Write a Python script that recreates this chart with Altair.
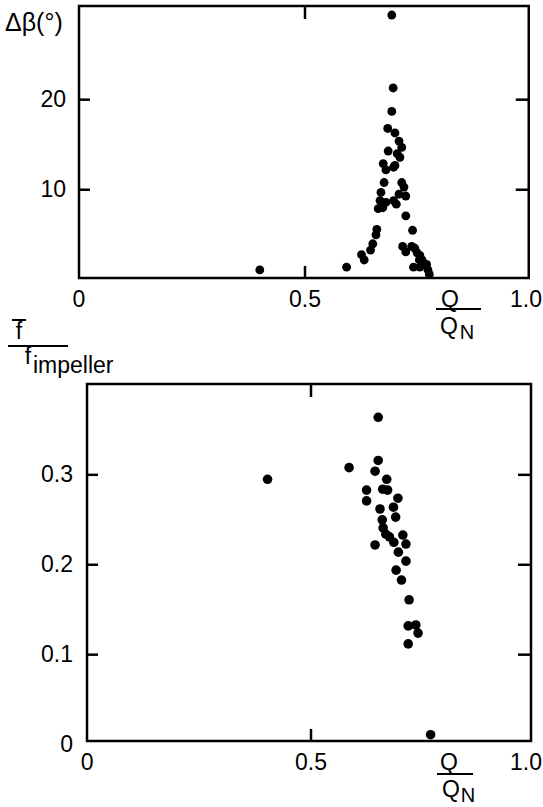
import altair as alt
import pandas as pd

# ---------------- data ----------------
# upper panel: flow ratio Q/QN vs. delta beta (degrees)
top_q = [0.400, 0.592, 0.625, 0.631, 0.645, 0.650, 0.657, 0.659, 0.662, 0.672,
         0.666, 0.679, 0.696, 0.702, 0.668, 0.708, 0.723, 0.675, 0.714, 0.719,
         0.673, 0.679, 0.696, 0.699, 0.684, 0.704, 0.710, 0.714, 0.683, 0.699,
         0.708, 0.692, 0.695, 0.692, 0.723, 0.738, 0.716, 0.723, 0.736, 0.743,
         0.748, 0.754, 0.753, 0.759, 0.740, 0.754, 0.769, 0.772, 0.775]
top_dbeta = [1.1, 1.4, 2.8, 2.2, 3.3, 4.0, 5.0, 5.6, 7.9, 8.0,
             8.8, 8.6, 8.8, 8.4, 9.7, 9.5, 9.3, 10.8, 10.8, 10.3,
             12.9, 12.2, 12.5, 12.7, 14.3, 14.0, 13.6, 14.7, 16.8, 16.3,
             15.4, 18.7, 21.3, 29.4, 7.1, 5.5, 3.7, 3.1, 3.7, 3.5,
             3.0, 2.7, 2.2, 2.2, 1.4, 1.4, 1.7, 1.1, 0.6]

# lower panel: flow ratio Q/QN vs. f / f_impeller
bot_q = [0.403, 0.585, 0.650, 0.650, 0.643, 0.669, 0.660, 0.671, 0.624, 0.624,
         0.694, 0.684, 0.654, 0.689, 0.659, 0.661, 0.667, 0.675, 0.685, 0.705,
         0.712, 0.643, 0.695, 0.712, 0.690, 0.702, 0.719, 0.717, 0.734, 0.739,
         0.717, 0.767]
bot_f = [0.295, 0.308, 0.364, 0.316, 0.304, 0.295, 0.284, 0.283, 0.283, 0.271,
         0.274, 0.264, 0.262, 0.253, 0.250, 0.241, 0.234, 0.231, 0.225, 0.233,
         0.223, 0.222, 0.214, 0.204, 0.194, 0.183, 0.161, 0.132, 0.133, 0.124,
         0.112, 0.011]

x_tick_values = [0, 0.5, 1.0]
x_tick_labels = ["0", "0.5", "1.0"]
x_inner_ticks = [0.5]
top_y_values = [10, 20]
top_y_labels = ["10", "20"]
bot_y_values = [0, 0.1, 0.2, 0.3]
bot_y_labels = ["0", "0.1", "0.2", "0.3"]
bot_y_inner_ticks = [0.1, 0.2, 0.3]

FONT = "Liberation Sans"
FS = 23
BLACK = "black"


def one(text=""):
    return pd.DataFrame({"t": [text]})


def panel(q, v, xdom, ydom, frame_x, w, h, y_vals, y_labels, y_inner,
          ylab_x, dot, one_dx):
    xs = alt.Scale(domain=xdom, nice=False, zero=False)
    ys = alt.Scale(domain=ydom, nice=False, zero=False)

    def X(f):
        return alt.X(f, type="quantitative", scale=xs, axis=None)

    def Y(f):
        return alt.Y(f, type="quantitative", scale=ys, axis=None)

    frame_df = pd.DataFrame({"x0": [frame_x[0]], "x1": [frame_x[1]],
                             "y0": [ydom[0]], "y1": [ydom[1]]})
    frame = alt.Chart(frame_df).mark_rect(
        fillOpacity=0, stroke=BLACK, strokeWidth=2.5
    ).encode(x=X("x0"), x2="x1", y=Y("y0"), y2="y1")

    xt_df = pd.DataFrame({"x": x_inner_ticks,
                          "yb": [ydom[0]] * len(x_inner_ticks),
                          "yt": [ydom[1]] * len(x_inner_ticks)})
    tick_b = alt.Chart(xt_df).mark_tick(
        orient="vertical", size=12, thickness=2.5, color=BLACK, yOffset=-6, opacity=1
    ).encode(x=X("x"), y=Y("yb"))
    tick_t = alt.Chart(xt_df).mark_tick(
        orient="vertical", size=13, thickness=2.5, color=BLACK, yOffset=6.5, opacity=1
    ).encode(x=X("x"), y=Y("yt"))

    yt_df = pd.DataFrame({"y": y_inner,
                          "xl": [frame_x[0]] * len(y_inner),
                          "xr": [frame_x[1]] * len(y_inner)})
    tick_l = alt.Chart(yt_df).mark_tick(
        orient="horizontal", size=11, thickness=2.5, color=BLACK, xOffset=5.5, opacity=1
    ).encode(x=X("xl"), y=Y("y"))
    tick_r = alt.Chart(yt_df).mark_tick(
        orient="horizontal", size=13, thickness=2.5, color=BLACK, xOffset=-6.5, opacity=1
    ).encode(x=X("xr"), y=Y("y"))

    pts = alt.Chart(pd.DataFrame({"q": q, "v": v})).mark_circle(
        size=dot, color=BLACK, opacity=1
    ).encode(x=X("q"), y=Y("v"))

    xl_df = pd.DataFrame({"x": x_tick_values, "label": x_tick_labels})
    xlab_c = alt.Chart(xl_df).transform_filter("datum.x < 1").mark_text(
        font=FONT, fontSize=FS, align="center", baseline="middle", color=BLACK
    ).encode(x=X("x"), y=alt.value(h + 22), text="label:N")
    xlab_r = alt.Chart(xl_df).transform_filter("datum.x >= 1").mark_text(
        font=FONT, fontSize=FS, align="right", baseline="middle", color=BLACK,
        dx=one_dx
    ).encode(x=X("x"), y=alt.value(h + 22), text="label:N")

    yl_df = pd.DataFrame({"y": y_vals, "label": y_labels})
    ylab = alt.Chart(yl_df).mark_text(
        font=FONT, fontSize=FS, align="right", baseline="middle", color=BLACK
    ).encode(x=alt.value(ylab_x), y=Y("y"), text="label:N")

    return [frame, tick_b, tick_t, tick_l, tick_r, pts, xlab_c, xlab_r, ylab]


def txt(s, x, y, align="center", baseline="middle", size=FS):
    return alt.Chart(one(s)).mark_text(
        font=FONT, fontSize=size, align=align, baseline=baseline, color=BLACK
    ).encode(x=alt.value(x), y=alt.value(y), text="t:N")


def hline(x0, x1, y, sw=2):
    return alt.Chart(one()).mark_rule(color=BLACK, strokeWidth=sw).encode(
        x=alt.value(x0), x2=alt.value(x1), y=alt.value(y))


def q_over_qn(h, qx, lx0, lx1, qnx, nx, dy_line):
    return [
        txt("Q", qx, h + 22),
        hline(lx0, lx1, h + dy_line),
        txt("Q", qnx, h + 49),
        txt("N", nx, h + 55, size=20),
    ]


# ---------------- upper panel ----------------
TOP_W, TOP_H = 452, 272
top_layers = panel(top_q, top_dbeta, [0, 1.0], [0.2, 30.4], [0, 0.995],
                   TOP_W, TOP_H, top_y_values, top_y_labels, top_y_values,
                   -13, 78, 11)
top_layers += [txt("Δβ(°)", -74, 17, align="left", size=25)]
top_layers += q_over_qn(TOP_H, 371, 357, 402, 370, 388, 31)
top = alt.layer(*top_layers).properties(width=TOP_W, height=TOP_H)

# ---------------- lower panel ----------------
BOT_W, BOT_H = 452, 357
bot_layers = panel(bot_q, bot_f, [-0.0179, 0.9911], [0.004, 0.401], [0, 0.9911],
                   BOT_W, BOT_H, bot_y_values, bot_y_labels, bot_y_inner_ticks,
                   -6, 92, 7)
bot_layers += [
    txt("f", -60, -52),
    hline(-67, -53, -64),
    hline(-71, -11, -38),
    txt("f", -51, -20, baseline="alphabetic"),
    txt("impeller", -46, -11, align="left", baseline="alphabetic"),
]
bot_layers += q_over_qn(BOT_H, 370, 358, 394, 372, 389, 33)
bottom = alt.layer(*bot_layers).properties(width=BOT_W, height=BOT_H)

chart = alt.vconcat(top, bottom, spacing=106, bounds="flush").configure_view(
    strokeWidth=0
).properties(padding={"left": 5, "top": 4, "right": 0, "bottom": 0})

chart.save("out.html", embed_options={"renderer": "svg", "actions": False})
